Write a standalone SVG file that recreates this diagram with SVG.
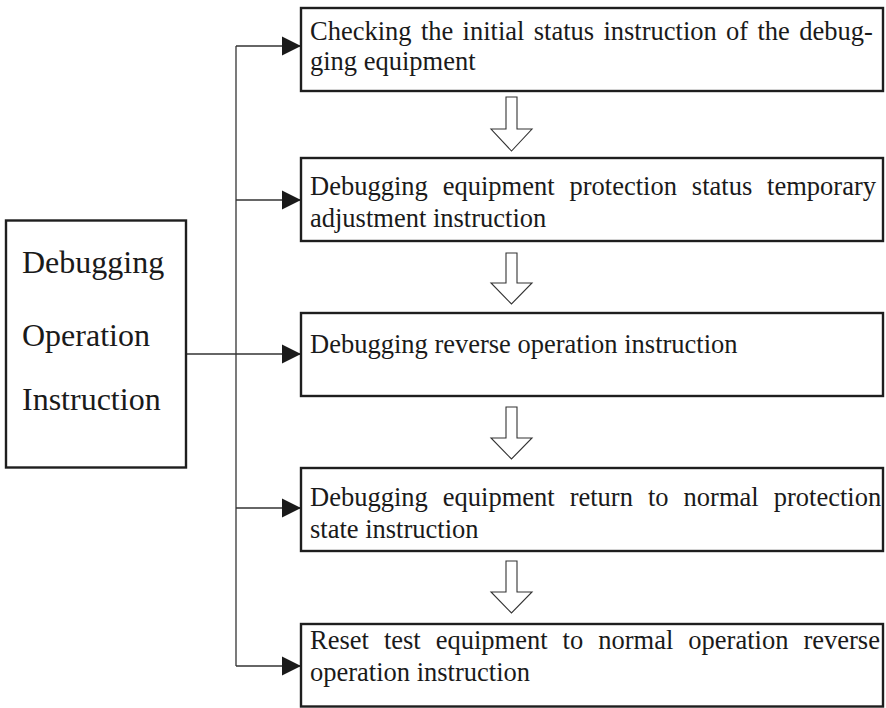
<svg xmlns="http://www.w3.org/2000/svg" width="886" height="708" viewBox="0 0 886 708">
  <style>
    .box { fill: #fff; stroke: #1e1e1e; stroke-width: 2.4; }
    .txt { font-family: "Liberation Serif", "Times New Roman", serif; font-size: 26.5px; fill: #1a1a1a; }
    .big { font-family: "Liberation Serif", "Times New Roman", serif; font-size: 32px; fill: #1a1a1a; }
    .wire { fill: none; stroke: #333; stroke-width: 1.3; }
    .flow { fill: #fff; stroke: #333; stroke-width: 1.1; stroke-linejoin: miter; }
  </style>
  <defs>
    <marker id="head" markerUnits="userSpaceOnUse" markerWidth="20" markerHeight="20" refX="19" refY="10" orient="auto">
      <path d="M0,0.5 L19,10 L0,19.5 Z" fill="#1a1a1a"/>
    </marker>
  </defs>

  <rect width="886" height="708" fill="#fff"/>

  <!-- branch wiring from the main instruction box to every step -->
  <g id="connectors">
    <path class="wire" d="M236,46 V666"/>
    <path class="wire" d="M236,46 H301" marker-end="url(#head)"/>
    <path class="wire" d="M236,200 H301" marker-end="url(#head)"/>
    <path class="wire" d="M186,354 H301" marker-end="url(#head)"/>
    <path class="wire" d="M236,508 H301" marker-end="url(#head)"/>
    <path class="wire" d="M236,666 H301" marker-end="url(#head)"/>
    <!-- hollow block arrows between consecutive steps -->
    <path class="flow" d="M506,97 H517 V129 H532 L511.5,151 L491,129 H506 Z"/>
    <path class="flow" d="M506,253 H517 V283 H532 L511.5,304 L491,283 H506 Z"/>
    <path class="flow" d="M506,407 H517 V438 H532 L511.5,459 L491,438 H506 Z"/>
    <path class="flow" d="M506,561 H517 V592 H532 L511.5,613 L491,592 H506 Z"/>
  </g>

  <g id="main">
    <rect class="box" x="6" y="220.5" width="180" height="247"/>
    <text class="big" x="22" y="273">Debugging</text>
    <text class="big" x="22" y="346">Operation</text>
    <text class="big" x="22" y="410">Instruction</text>
  </g>

  <g id="step1">
    <rect class="box" x="301" y="8" width="582" height="83"/>
    <text class="txt" x="310" y="40" word-spacing="2.7">Checking the initial status instruction of the debug-</text>
    <text class="txt" x="310" y="70">ging equipment</text>
  </g>

  <g id="step2">
    <rect class="box" x="301" y="158" width="582" height="83"/>
    <text class="txt" x="310" y="195" word-spacing="8.3">Debugging equipment protection status temporary</text>
    <text class="txt" x="310" y="227">adjustment instruction</text>
  </g>

  <g id="step3">
    <rect class="box" x="301" y="313" width="582" height="83"/>
    <text class="txt" x="310" y="353">Debugging reverse operation instruction</text>
  </g>

  <g id="step4">
    <rect class="box" x="301" y="468" width="582" height="83"/>
    <text class="txt" x="310" y="506" word-spacing="8.4">Debugging equipment return to normal protection</text>
    <text class="txt" x="310" y="538">state instruction</text>
  </g>

  <g id="step5">
    <rect class="box" x="301" y="624" width="582" height="82.5"/>
    <text class="txt" x="310" y="649" word-spacing="8.4">Reset test equipment to normal operation reverse</text>
    <text class="txt" x="310" y="681">operation instruction</text>
  </g>
</svg>
